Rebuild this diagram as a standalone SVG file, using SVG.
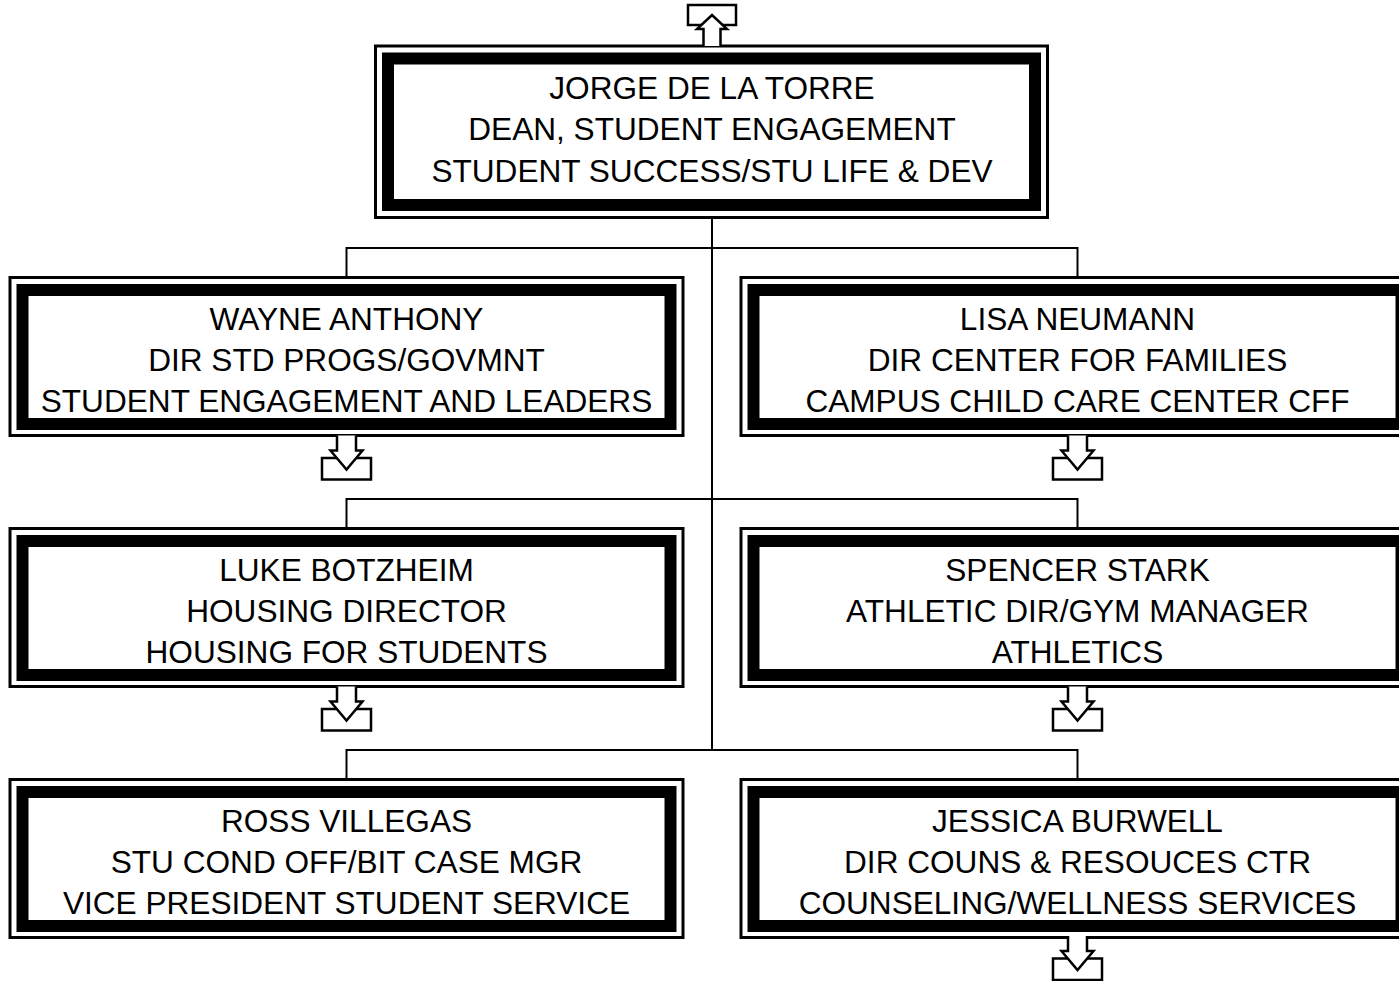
<svg xmlns="http://www.w3.org/2000/svg" xmlns:xlink="http://www.w3.org/1999/xlink" width="1399" height="981" viewBox="0 0 1399 981">
<style>
.outer{fill:#fff;stroke:#000;stroke-width:3}
.inner{fill:none;stroke:#000;stroke-width:12}
.t{font-family:"Liberation Sans",Arial,sans-serif;font-size:31.6px;fill:#000;text-anchor:middle}
.conn{fill:none;stroke:#000;stroke-width:2}
.arr{fill:#fff;stroke:#000;stroke-width:2.5;stroke-linejoin:miter}
</style>
<defs>
<g id="down">
<rect class="arr" x="-24.5" y="22.5" width="49" height="21.5"/>
<path class="arr" d="M-9.5,0 V15 H-16 L0,34 L16,15 H9.5 V0"/>
</g>
<g id="up">
<rect class="arr" x="-24" y="-41" width="48" height="20"/>
<path class="arr" d="M-8.5,0 V-17 H-15 L0,-31 L15,-17 H8.5 V0"/>
</g>
</defs>
<rect width="1399" height="981" fill="#fff"/>
<g id="connectors">
<line class="conn" x1="712" y1="218" x2="712" y2="750"/>
<polyline class="conn" points="346.5,277.5 346.5,248 1077.5,248 1077.5,277.5"/>
<polyline class="conn" points="346.5,528.5 346.5,499 1077.5,499 1077.5,528.5"/>
<polyline class="conn" points="346.5,779.5 346.5,750 1077.5,750 1077.5,779.5"/>
</g>
<g id="node-jorge">
<rect class="outer" x="375.5" y="46" width="672" height="171.5"/>
<rect class="inner" x="388" y="58.5" width="647" height="146.5"/>
<text class="t" x="712" y="98.5">JORGE DE LA TORRE</text>
<text class="t" x="712" y="140">DEAN, STUDENT ENGAGEMENT</text>
<text class="t" x="712" y="181.5">STUDENT SUCCESS/STU LIFE &amp; DEV</text>
<use xlink:href="#up" x="712" y="46"/>
</g>
<g id="node-wayne">
<rect class="outer" x="10" y="277.5" width="673" height="158"/>
<rect class="inner" x="22.5" y="290" width="648" height="134"/>
<text class="t" x="346.5" y="330">WAYNE ANTHONY</text>
<text class="t" x="346.5" y="371">DIR STD PROGS/GOVMNT</text>
<text class="t" x="346.5" y="412">STUDENT ENGAGEMENT AND LEADERS</text>
<use xlink:href="#down" x="346.5" y="435.5"/>
</g>
<g id="node-lisa">
<rect class="outer" x="741" y="277.5" width="673" height="158"/>
<rect class="inner" x="753.5" y="290" width="648" height="134"/>
<text class="t" x="1077.5" y="330">LISA NEUMANN</text>
<text class="t" x="1077.5" y="371">DIR CENTER FOR FAMILIES</text>
<text class="t" x="1077.5" y="412">CAMPUS CHILD CARE CENTER CFF</text>
<use xlink:href="#down" x="1077.5" y="435.5"/>
</g>
<g id="node-luke">
<rect class="outer" x="10" y="528.5" width="673" height="158"/>
<rect class="inner" x="22.5" y="541" width="648" height="134"/>
<text class="t" x="346.5" y="581">LUKE BOTZHEIM</text>
<text class="t" x="346.5" y="622">HOUSING DIRECTOR</text>
<text class="t" x="346.5" y="663">HOUSING FOR STUDENTS</text>
<use xlink:href="#down" x="346.5" y="686.5"/>
</g>
<g id="node-spencer">
<rect class="outer" x="741" y="528.5" width="673" height="158"/>
<rect class="inner" x="753.5" y="541" width="648" height="134"/>
<text class="t" x="1077.5" y="581">SPENCER STARK</text>
<text class="t" x="1077.5" y="622">ATHLETIC DIR/GYM MANAGER</text>
<text class="t" x="1077.5" y="663">ATHLETICS</text>
<use xlink:href="#down" x="1077.5" y="686.5"/>
</g>
<g id="node-ross">
<rect class="outer" x="10" y="779.5" width="673" height="158"/>
<rect class="inner" x="22.5" y="792" width="648" height="134"/>
<text class="t" x="346.5" y="832">ROSS VILLEGAS</text>
<text class="t" x="346.5" y="873">STU COND OFF/BIT CASE MGR</text>
<text class="t" x="346.5" y="914">VICE PRESIDENT STUDENT SERVICE</text>
</g>
<g id="node-jessica">
<rect class="outer" x="741" y="779.5" width="673" height="158"/>
<rect class="inner" x="753.5" y="792" width="648" height="134"/>
<text class="t" x="1077.5" y="832">JESSICA BURWELL</text>
<text class="t" x="1077.5" y="873">DIR COUNS &amp; RESOUCES CTR</text>
<text class="t" x="1077.5" y="914">COUNSELING/WELLNESS SERVICES</text>
<use xlink:href="#down" x="1077.5" y="936"/>
</g>
</svg>
